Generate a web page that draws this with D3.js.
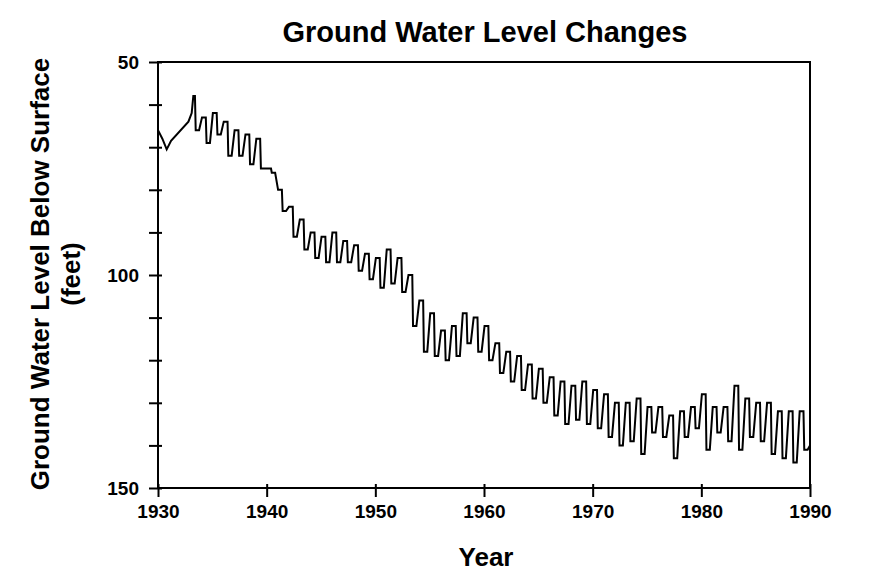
<!DOCTYPE html>
<html>
<head>
<style>
  body { margin: 0; background: #fff; }
  text { font-family: "Liberation Sans", Arial, sans-serif; }
</style>
</head>
<body>
<svg id="chart" width="886" height="577"></svg>
<script src="https://cdn.jsdelivr.net/npm/d3@7"></script>
<script>
// early record (irregular readings)
var earlyPts = [[1930, 66], [1930.4, 68], [1930.8, 70.5], [1931.2, 68.5], [1932.8, 64], [1933.1, 62], [1933.25, 58]];
// yearly shallowest (spring) and deepest (late summer) depth, feet
var years = d3.range(1933, 1990);
var highs = [58, 63, 62, 64, 66, 67, 68, 75, 80, 84, 87, 90, 91, 90, 92, 93, 95, 96, 94, 96, 100, 106, 109, 113, 112, 109,
  110, 112, 116, 118, 119, 121, 122, 124, 125, 126, 125, 127, 128, 130, 130, 129, 131, 131, 133, 132, 131, 128, 131, 131,
  126, 129, 130, 130, 132, 132, 132];
var lows = [66, 69, 67, 72, 72, 74, 75, 76, 85, 91, 94, 96, 97, 97, 97, 99, 101, 103, 102, 104, 112, 118, 119, 120, 119, 116,
  118, 120, 123, 125, 127, 129, 130, 133, 135, 134, 135, 136, 138, 140, 139, 142, 137, 138, 143, 138, 136, 141, 137, 139,
  141, 138, 139, 142, 143, 144, 141];
var endValue = 140;
var xTicks = [1930, 1940, 1950, 1960, 1970, 1980, 1990];
var yTicks = [50, 60, 70, 80, 90, 100, 110, 120, 130, 140, 150];
var yLabels = [50, 100, 150];

var pts = earlyPts.slice();
years.forEach(function (yr, i) {
  if (i > 0) pts.push([yr + 0.05, highs[i]]);
  pts.push([yr + 0.4, highs[i]], [yr + 0.47, lows[i]], [yr + 0.78, lows[i]]);
});
pts.push([1990, endValue]);

var svg = d3.select("#chart");
var x = d3.scaleLinear().domain([1930, 1990]).range([158, 810]);
var y = d3.scaleLinear().domain([50, 150]).range([62, 488]);

svg.append("rect").attr("x", 158).attr("y", 62).attr("width", 652).attr("height", 426)
  .attr("fill", "none").attr("stroke", "#000").attr("stroke-width", 2);

svg.append("path").datum(pts)
  .attr("d", d3.line().x(function (d) { return x(d[0]); }).y(function (d) { return y(d[1]); }))
  .attr("fill", "none").attr("stroke", "#000").attr("stroke-width", 2);

svg.append("g").attr("transform", "translate(0,488)")
  .call(d3.axisBottom(x).tickValues(xTicks).tickFormat(d3.format("d")).tickSize(9).tickPadding(8))
  .call(function (g) {
    g.select(".domain").remove();
    g.selectAll("line").attr("stroke-width", 2).attr("y1", -4);
    g.selectAll("text").attr("font-size", 19).attr("font-weight", "bold").attr("fill", "#000");
  });

svg.append("g").attr("transform", "translate(158,0)")
  .call(d3.axisLeft(y).tickValues(yTicks)
    .tickFormat(function (d) { return yLabels.indexOf(d) >= 0 ? d : ""; }).tickSize(9).tickPadding(10))
  .call(function (g) {
    g.select(".domain").remove();
    g.selectAll("line").attr("stroke-width", 2).attr("x2", 4).attr("x1", -9);
    g.selectAll("text").attr("font-size", 19).attr("font-weight", "bold").attr("fill", "#000");
  });

svg.append("text").attr("x", 485).attr("y", 42).attr("text-anchor", "middle")
  .attr("font-size", 29).attr("font-weight", "bold").text("Ground Water Level Changes");
svg.append("text").attr("x", 486).attr("y", 566).attr("text-anchor", "middle")
  .attr("font-size", 26).attr("font-weight", "bold").text("Year");
svg.append("text").attr("transform", "translate(49,274) rotate(-90)").attr("text-anchor", "middle")
  .attr("font-size", 26).attr("font-weight", "bold").text("Ground Water Level Below Surface");
svg.append("text").attr("transform", "translate(80,274) rotate(-90)").attr("text-anchor", "middle")
  .attr("font-size", 26).attr("font-weight", "bold").text("(feet)");
</script>
</body>
</html>
